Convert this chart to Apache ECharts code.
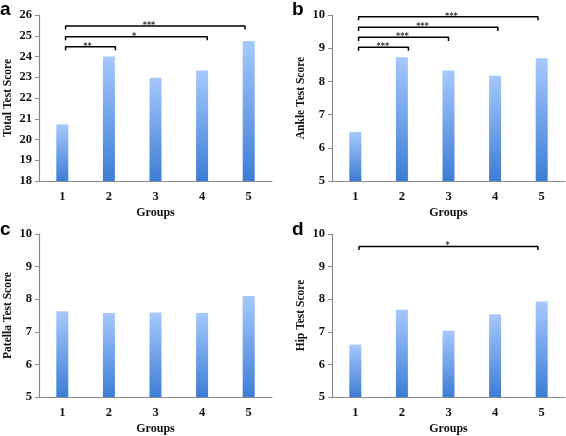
<!DOCTYPE html>
<html><head><meta charset="utf-8">
<script src="https://cdn.jsdelivr.net/npm/echarts@6/dist/echarts.min.js"></script>
<style>html,body{margin:0;padding:0;background:#fff}#c{width:566px;height:436px}</style>
</head><body><div id="c"></div>
<script>
const groups = ['1','2','3','4','5'];
const totalScores = [20.73, 24.0, 22.98, 23.32, 24.75];
const ankleScores = [6.48, 8.73, 8.33, 8.17, 8.70];
const patellaScores = [7.63, 7.58, 7.59, 7.58, 8.10];
const hipScores = [6.61, 7.68, 7.03, 7.54, 7.93];
const panelNames = ['Total Test Score', 'Ankle Test Score', 'Patella Test Score', 'Hip Test Score'];
const panelLetters = ['a', 'b', 'c', 'd'];
const yRanges = [[18, 26], [5, 10], [5, 10], [5, 10]];
// brackets: [fromX, toX, yLevel, starText, starX]
const bracketsA = [[1.07, 2.14, 24.47, '**', 1.54], [1.07, 4.11, 24.95, '*', 2.54], [1.07, 4.92, 25.47, '***', 2.86]];
const bracketsB = [[1.07, 2.14, 9.03, '***', 1.59], [1.07, 3.0, 9.33, '***', 2.01], [1.07, 4.06, 9.63, '***', 2.44], [1.07, 4.92, 9.95, '***', 3.06]];
const bracketsC = [];
const bracketsD = [[1.08, 4.92, 9.62, '*', 2.98]];

const allScores = [totalScores, ankleScores, patellaScores, hipScores];
const allBrackets = [bracketsA, bracketsB, bracketsC, bracketsD];
const tickDrop = [0.17, 0.11, 0.11, 0.11];

const grids = [
  {left: 39, top: 15, width: 233, height: 166},
  {left: 332, top: 15, width: 233, height: 166},
  {left: 39, top: 234, width: 233, height: 166},
  {left: 332, top: 234, width: 233, height: 166}
];
const serif = '"Liberation Serif", "DejaVu Serif", serif';
const axisColor = '#8a8a8a';
const xAxes = [], yAxes = [], series = [];
grids.forEach((g, i) => {
  xAxes.push({
    type: 'category', gridIndex: i, data: groups,
    axisLine: {lineStyle: {color: axisColor, width: 1.2}},
    axisTick: {show: false},
    axisLabel: {color: '#111', fontFamily: serif, fontWeight: 'bold', fontSize: 12.5, margin: 9},
    name: 'Groups', nameLocation: 'middle', nameGap: 26,
    nameTextStyle: {color: '#111', fontFamily: serif, fontWeight: 'bold', fontSize: 12}
  });
  xAxes.push({type: 'value', gridIndex: i, min: 0.5, max: 5.5, show: false});
  yAxes.push({
    type: 'value', gridIndex: i, min: yRanges[i][0], max: yRanges[i][1], interval: 1,
    axisLine: {show: true, lineStyle: {color: axisColor, width: 1.2}},
    axisTick: {show: true, length: 4, lineStyle: {color: axisColor}},
    splitLine: {show: false},
    axisLabel: {color: '#111', fontFamily: serif, fontWeight: 'bold', fontSize: 12.5, margin: 7},
    name: panelNames[i], nameLocation: 'middle', nameGap: 25, nameRotate: 90,
    nameTextStyle: {color: '#111', fontFamily: serif, fontWeight: 'bold', fontSize: 11.5}
  });
  series.push({
    type: 'bar', xAxisIndex: i * 2, yAxisIndex: i, data: allScores[i], barWidth: 12,
    itemStyle: {color: new echarts.graphic.LinearGradient(0, 0, 0, 1, [
      {offset: 0, color: '#a6c9fd'}, {offset: 1, color: '#3d7dd6'}])}
  });
  allBrackets[i].forEach(b => {
    const d = tickDrop[i];
    series.push({
      type: 'line', xAxisIndex: i * 2 + 1, yAxisIndex: i, symbol: 'none', silent: true,
      lineStyle: {color: '#000', width: 1.5},
      data: [[b[0], b[2] - d], [b[0], b[2]], [b[1], b[2]], [b[1], b[2] - d]]
    });
    series.push({
      type: 'scatter', xAxisIndex: i * 2 + 1, yAxisIndex: i, symbolSize: 0, silent: true,
      data: [{value: [b[4], b[2]], name: b[3]}],
      label: {show: true, position: 'inside', offset: [0, 0], formatter: p => p.name,
        color: '#000', fontSize: 8, fontWeight: 'bold', fontFamily: 'DejaVu Sans'}
    });
  });
});
const letterPos = [[0, 0], [292, 0], [0, 220], [292, 220]];
const chart = echarts.init(document.getElementById('c'), null, {renderer: 'canvas'});
chart.setOption({
  animation: false,
  grid: grids,
  xAxis: xAxes,
  yAxis: yAxes,
  series: series,
  graphic: panelLetters.map((t, i) => ({
    type: 'text', left: letterPos[i][0], top: letterPos[i][1],
    style: {text: t, fill: '#000', font: 'bold 19px "Liberation Sans", Arial, sans-serif'}
  }))
});
</script></body></html>
